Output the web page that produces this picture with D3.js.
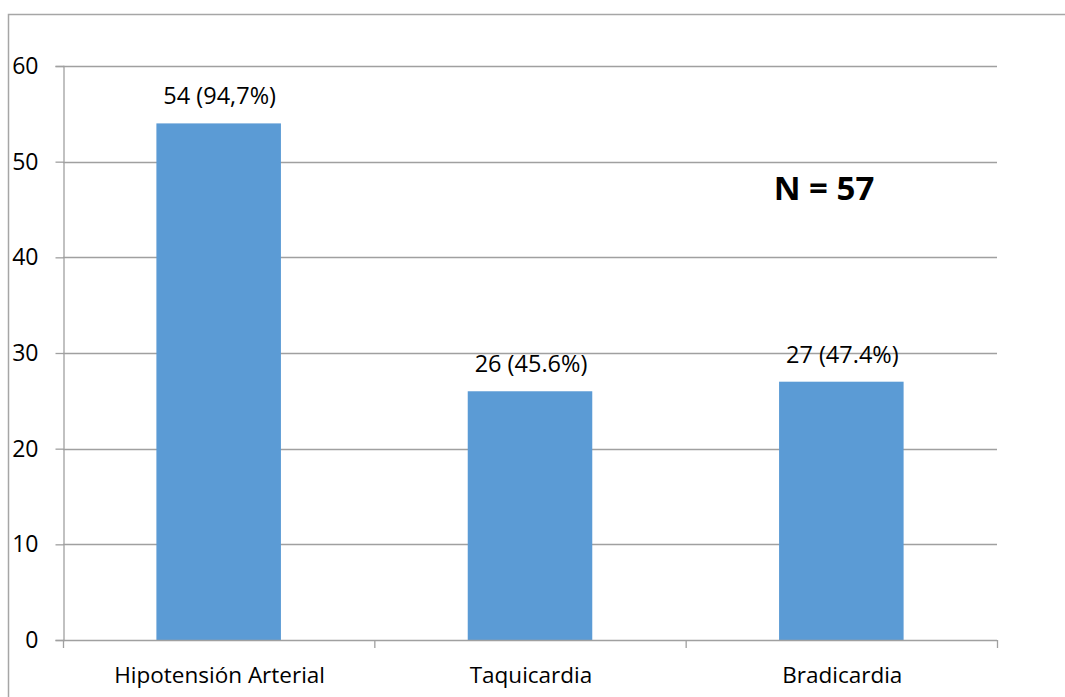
<!DOCTYPE html>
<html>
<head>
<meta charset="utf-8">
<script src="https://cdn.jsdelivr.net/npm/d3@7"></script>
<style>
  html, body { margin: 0; padding: 0; background: #fff; }
  svg { display: block; }
  text { font-family: "Open Sans", "Noto Sans", sans-serif; fill: #000; }
</style>
</head>
<body>
<script>
// Chart data
const categories = ["Hipotensión Arterial", "Taquicardia", "Bradicardia"];
const counts = [54, 26, 27];
const barLabels = ["54 (94,7%)", "26 (45.6%)", "27 (47.4%)"];
const yTicks = [0, 10, 20, 30, 40, 50, 60];
const totalLabel = "N = 57";

const W = 1065, H = 697;
const plot = { left: 63, right: 997, top: 66, bottom: 640 };

const svg = d3.select("body").append("svg")
  .attr("width", W).attr("height", H);

// outer frame
svg.append("path")
  .attr("d", `M8.5,${H} V14.5 H${W}`)
  .attr("fill", "none").attr("stroke", "#a6a6a6").attr("stroke-width", 1.5);

const x = d3.scaleBand().domain(categories)
  .range([plot.left, plot.right]).paddingInner(0.6).paddingOuter(0.3);
const xOuter = d3.scaleBand().domain(categories)
  .range([plot.left, plot.right]);
const y = d3.scaleLinear().domain([0, 60]).range([plot.bottom, plot.top]);

const gridColor = "#a0a0a0";

// horizontal gridlines
svg.append("g").selectAll("line").data(yTicks.filter(d => d > 0)).join("line")
  .attr("x1", plot.left).attr("x2", plot.right)
  .attr("y1", d => Math.round(y(d)) + 0.5).attr("y2", d => Math.round(y(d)) + 0.5)
  .attr("stroke", gridColor).attr("stroke-width", 1.3);

// y axis
const yAxis = d3.axisLeft(y).tickValues(yTicks).tickSize(8).tickPadding(17);
const gy = svg.append("g").attr("transform", `translate(${plot.left + 0.5},0)`).call(yAxis);
gy.select(".domain").attr("stroke", gridColor).attr("stroke-width", 1.3);
gy.selectAll(".tick line").attr("stroke", gridColor).attr("stroke-width", 1.3);
gy.selectAll(".tick text").style("font-size", "23px").style("font-family", "'Open Sans', sans-serif").attr("fill", "#000");

// bars
svg.append("g").selectAll("rect").data(counts).join("rect")
  .attr("x", (d, i) => x(categories[i]))
  .attr("width", x.bandwidth())
  .attr("y", d => y(d))
  .attr("height", d => y(0) - y(d))
  .attr("fill", "#5b9bd5");

// x axis with ticks at category boundaries
const boundaries = categories.map(c => xOuter(c)).concat([plot.right]);
const gx = svg.append("g");
gx.append("line")
  .attr("x1", plot.left).attr("x2", plot.right)
  .attr("y1", plot.bottom + 0.5).attr("y2", plot.bottom + 0.5)
  .attr("stroke", gridColor).attr("stroke-width", 1.3);
gx.selectAll("line.tk").data(boundaries).join("line").attr("class", "tk")
  .attr("x1", d => d + 0.5).attr("x2", d => d + 0.5)
  .attr("y1", plot.bottom).attr("y2", plot.bottom + 8)
  .attr("stroke", gridColor).attr("stroke-width", 1.3);
gx.selectAll("text").data(categories).join("text")
  .attr("x", d => xOuter(d) + xOuter.bandwidth() / 2 + 1)
  .attr("y", plot.bottom + 43)
  .attr("text-anchor", "middle")
  .style("font-size", "22.5px")
  .text(d => d);

// value labels
svg.append("g").selectAll("text").data(counts).join("text")
  .attr("x", (d, i) => x(categories[i]) + x.bandwidth() / 2 + 1)
  .attr("y", d => y(d) - 19)
  .attr("text-anchor", "middle")
  .style("font-size", "23.5px")
  .text((d, i) => barLabels[i]);

// sample size annotation
svg.append("text")
  .attr("x", 824).attr("y", 200)
  .attr("text-anchor", "middle")
  .style("font-size", "33px").style("font-weight", "bold")
  .text(totalLabel);
</script>
</body>
</html>
